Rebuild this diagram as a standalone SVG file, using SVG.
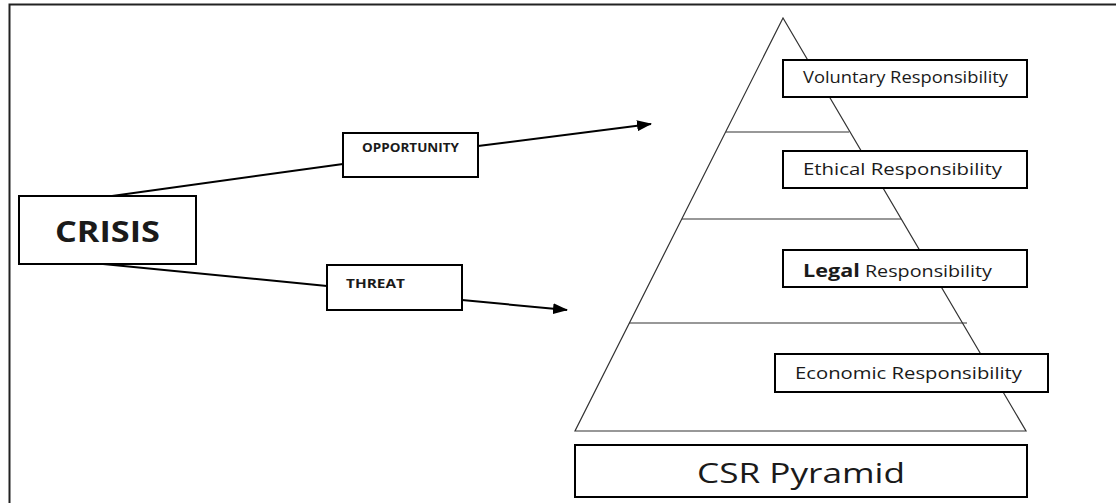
<svg xmlns="http://www.w3.org/2000/svg" width="1116" height="503" viewBox="0 0 1116 503">
<style>
  .box{fill:#fff;stroke:#000;stroke-width:2}
  .pyr{fill:none;stroke:#333;stroke-width:1.2}
  .conn{fill:none;stroke:#000;stroke-width:2}
  .t{font-family:"Open Sans","Lato","Liberation Sans",sans-serif;fill:#1a1a1a}
  .b{font-weight:bold}
</style>
<defs>
  <marker id="arr" markerWidth="15" markerHeight="11" refX="14" refY="5.5" orient="auto" markerUnits="userSpaceOnUse">
    <path d="M0,0 L15,5.5 L0,11 Z" fill="#000"/>
  </marker>
</defs>
<rect width="1116" height="503" fill="#fff"/>
<path d="M9.5,510 L9.5,4.5 L1120,4.5" fill="none" stroke="#222" stroke-width="2"/>

<g id="pyramid">
  <path class="pyr" d="M783,18 L575,431 L1026,431 Z"/>
  <line class="pyr" x1="726" y1="132" x2="849" y2="132"/>
  <line class="pyr" x1="682" y1="219" x2="901" y2="219"/>
  <line class="pyr" x1="629" y1="323" x2="967" y2="323"/>
</g>

<g id="connectors">
  <line class="conn" x1="112" y1="196" x2="343" y2="164"/>
  <line class="conn" x1="478" y1="146" x2="651" y2="124" marker-end="url(#arr)"/>
  <line class="conn" x1="103" y1="264" x2="327" y2="286"/>
  <line class="conn" x1="462" y1="300" x2="567" y2="310" marker-end="url(#arr)"/>
</g>

<g id="crisis">
  <rect class="box" x="19" y="196" width="177" height="68"/>
  <text class="t b" x="55" y="242" font-size="28" textLength="105" lengthAdjust="spacingAndGlyphs">CRISIS</text>
</g>

<g id="opportunity">
  <rect class="box" x="343" y="133" width="135" height="44"/>
  <text class="t b" x="362" y="152" font-size="12" textLength="97" lengthAdjust="spacingAndGlyphs">OPPORTUNITY</text>
</g>

<g id="threat">
  <rect class="box" x="327" y="265" width="135" height="45"/>
  <text class="t b" x="346" y="288" font-size="12" textLength="59" lengthAdjust="spacingAndGlyphs">THREAT</text>
</g>

<g id="voluntary">
  <rect class="box" x="783" y="60" width="244" height="37"/>
  <text class="t" x="803" y="83" font-size="16.5" textLength="205" lengthAdjust="spacingAndGlyphs">Voluntary Responsibility</text>
</g>

<g id="ethical">
  <rect class="box" x="783" y="151" width="244" height="37"/>
  <text class="t" x="803" y="175" font-size="17" textLength="199" lengthAdjust="spacingAndGlyphs">Ethical Responsibility</text>
</g>

<g id="legal">
  <rect class="box" x="783" y="250" width="244" height="37"/>
  <text class="t" x="803" y="277" font-size="16" textLength="189" lengthAdjust="spacingAndGlyphs"><tspan class="b" font-size="17.5">Legal</tspan> Responsibility</text>
</g>

<g id="economic">
  <rect class="box" x="775" y="354" width="273" height="38"/>
  <text class="t" x="795" y="379" font-size="16.5" textLength="227" lengthAdjust="spacingAndGlyphs">Economic Responsibility</text>
</g>

<g id="csr">
  <rect class="box" x="575" y="445" width="452" height="52"/>
  <text class="t" x="697" y="483" font-size="28" textLength="208" lengthAdjust="spacingAndGlyphs">CSR Pyramid</text>
</g>
</svg>
